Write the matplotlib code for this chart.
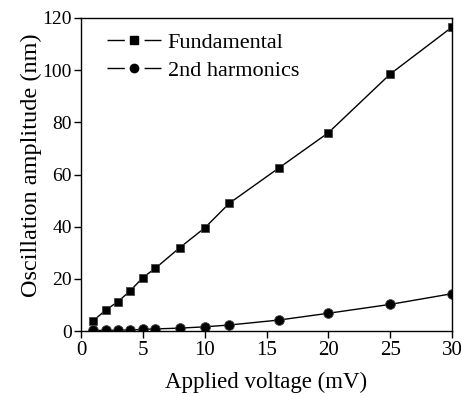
import matplotlib
matplotlib.use("Agg")
import matplotlib.pyplot as plt
from matplotlib.lines import Line2D
from matplotlib.legend_handler import HandlerTuple

voltage = [1, 2, 3, 4, 5, 6, 8, 10, 12, 16, 20, 25, 30]
fundamental = [4.0, 8.0, 11.3, 15.5, 20.5, 24.0, 32.0, 39.5, 49.0, 62.5, 76.0, 98.5, 116.5]
second = [0.2, 0.2, 0.3, 0.4, 0.6, 0.8, 1.1, 1.6, 2.3, 4.2, 6.8, 10.2, 14.3]
labels = ['Fundamental', '2nd harmonics']

plt.rcParams['font.family'] = ['Liberation Serif', 'DejaVu Serif']

fig = plt.figure(figsize=(4.62, 3.96), dpi=100)
ax = fig.add_axes([81/462, 1-331/396, (452-81)/462, (331-18)/396])

ax.plot(voltage, fundamental, color='black', lw=1, marker='s', ms=6.2,
        markeredgecolor='#444444', mew=0.6)
ax.plot(voltage, second, color='black', lw=1, marker='o', ms=7,
        markeredgecolor='#444444', mew=0.6)

ax.set_xlim(0, 30)
ax.set_ylim(0, 120)
ax.set_xticks([0, 5, 10, 15, 20, 25, 30])
ax.set_yticks([0, 20, 40, 60, 80, 100, 120])
ax.tick_params(direction='out', length=5, width=1)
ax.tick_params(axis='x', labelsize=15, pad=2)
ax.tick_params(axis='y', labelsize=14, pad=1.5)
ax.set_xlabel('Applied voltage (mV)', fontsize=16.5, labelpad=9)
ax.set_ylabel('Oscillation amplitude (nm)', fontsize=17.5)
ax.yaxis.set_label_coords(-0.105, 0.53)
for s in ax.spines.values():
    s.set_linewidth(1)

gap_line = dict(color='black', lw=1, dashes=[12.5, 14.2, 13, 10])
handles = [
    (Line2D([], [], **gap_line),
     Line2D([], [], ls='none', marker='s', ms=5.2, color='black')),
    (Line2D([], [], **gap_line),
     Line2D([], [], ls='none', marker='o', ms=6.0, color='black')),
]
ax.legend(handles, labels, loc='upper left', frameon=False, fontsize=16,
          handlelength=2.45, handletextpad=0.28, borderaxespad=0, borderpad=0,
          labelspacing=0.35, bbox_to_anchor=(0.07, 0.955),
          handler_map={tuple: HandlerTuple(ndivide=1, pad=0)})

fig.savefig('out.png', dpi=100)
